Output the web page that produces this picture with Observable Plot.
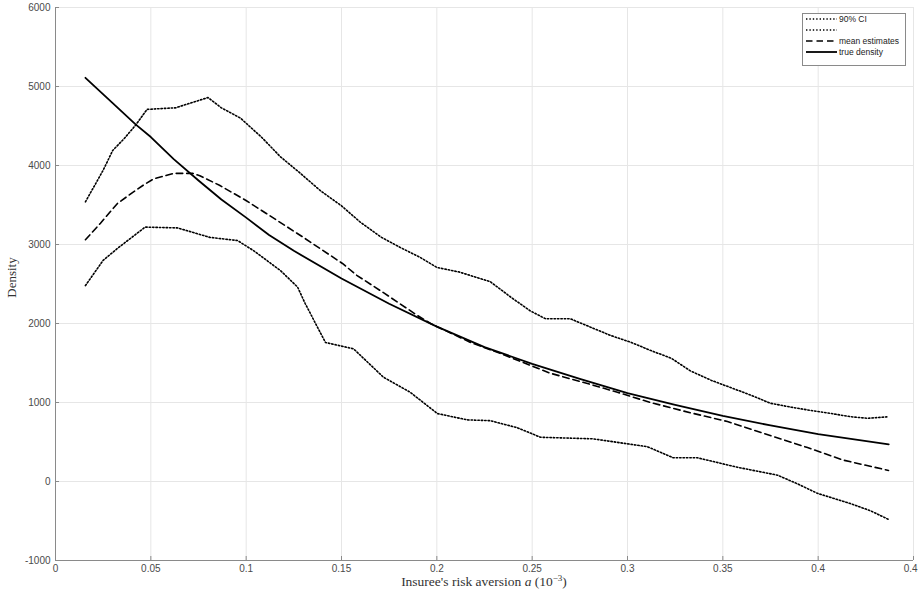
<!DOCTYPE html>
<html>
<head>
<meta charset="utf-8">
<script src="https://cdn.jsdelivr.net/npm/d3@7"></script>
<script src="https://cdn.jsdelivr.net/npm/@observablehq/plot@0.6"></script>
<style>
  html, body { margin: 0; padding: 0; background: #fff; overflow: hidden; }
  #chart svg { display: block; }
</style>
</head>
<body>
<div id="chart"></div>
<script>
// ---- data ----
const xTicks = [0, 0.05, 0.1, 0.15, 0.2, 0.25, 0.3, 0.35, 0.4, 0.45];
const yTicks = [-1000, 0, 1000, 2000, 3000, 4000, 5000, 6000];

const upperX = [0.0157,0.025,0.030,0.036,0.042,0.048,0.055,0.063,0.072,0.080,0.087,0.097,0.108,0.118,0.128,0.139,0.150,0.160,0.171,0.181,0.191,0.200,0.212,0.228,0.239,0.249,0.257,0.270,0.281,0.291,0.302,0.312,0.323,0.333,0.344,0.354,0.365,0.375,0.386,0.396,0.407,0.417,0.426,0.437];
const upperY = [3540,3940,4190,4340,4510,4710,4720,4730,4800,4860,4730,4600,4360,4110,3910,3680,3490,3280,3090,2960,2840,2710,2650,2530,2330,2160,2060,2060,1950,1850,1760,1660,1560,1400,1280,1190,1090,990,940,900,860,820,800,820];

const lowerX = [0.0157,0.025,0.033,0.047,0.064,0.081,0.0955,0.104,0.118,0.127,0.131,0.1416,0.1563,0.172,0.186,0.2003,0.216,0.228,0.2423,0.2544,0.282,0.3105,0.324,0.3367,0.3577,0.3787,0.3892,0.3996,0.417,0.4274,0.4369];
const lowerY = [2480,2800,2960,3220,3210,3090,3050,2920,2670,2460,2250,1760,1680,1320,1130,860,780,770,680,560,540,440,300,300,180,80,-30,-150,-280,-370,-480];

const meanX = [0.0157,0.0236,0.0325,0.040,0.046,0.0514,0.062,0.072,0.0757,0.086,0.0997,0.114,0.130,0.1505,0.158,0.172,0.1899,0.1967,0.2177,0.2334,0.2596,0.279,0.2947,0.312,0.333,0.3524,0.3713,0.3944,0.4133,0.4369];
const meanY = [3060,3270,3520,3650,3750,3830,3900,3900,3870,3750,3560,3340,3090,2760,2610,2390,2100,2000,1760,1620,1370,1240,1130,1000,870,760,610,430,270,140];

const trueX = [0.0157,0.03,0.042,0.05,0.062,0.075,0.087,0.1,0.112,0.125,0.15,0.175,0.2,0.225,0.25,0.275,0.3,0.325,0.35,0.375,0.4,0.437];
const trueY = [5110,4790,4520,4360,4080,3810,3570,3340,3120,2920,2570,2250,1960,1700,1490,1300,1120,970,830,710,600,470];

const legendLabels = ["90% CI", "", "mean estimates", "true density"];

// ---- build tables ----
const toRows = (xs, ys) => xs.map((x, i) => ({x, y: ys[i]}));
const upper = toRows(upperX, upperY);
const lower = toRows(lowerX, lowerY);
const mean = toRows(meanX, meanY);
const truth = toRows(trueX, trueY);

const W = 918, H = 591;
const mL = 55, mR = 5, mT = 7, mB = 31;
const fmtX = d => String(+d.toFixed(2));
const fmtY = d => String(d);

const styles = {
  dotted: {stroke: "#000", strokeWidth: 1.6, strokeDasharray: "1.4,2"},
  dashed: {stroke: "#000", strokeWidth: 1.6, strokeDasharray: "6.5,4"},
  solid: {stroke: "#000", strokeWidth: 1.8}
};

const chart = Plot.plot({
  width: W,
  height: H,
  marginLeft: mL,
  marginRight: mR,
  marginTop: mT,
  marginBottom: mB,
  style: {fontFamily: "'Liberation Sans', Arial, Helvetica, sans-serif", background: "#fff", overflow: "hidden"},
  x: {domain: [0, 0.45]},
  y: {domain: [-1000, 6000]},
  marks: [
    Plot.gridX(xTicks, {stroke: "#e6e6e6", strokeOpacity: 1, strokeWidth: 1}),
    Plot.gridY(yTicks, {stroke: "#e6e6e6", strokeOpacity: 1, strokeWidth: 1}),
    Plot.ruleX([0], {stroke: "#8a8a8a", strokeWidth: 1}),
    Plot.ruleY([-1000], {stroke: "#8a8a8a", strokeWidth: 1}),
    Plot.axisX({ticks: xTicks, tickFormat: fmtX, tickSize: -4, tickPadding: 8, label: null, fontSize: 10, color: "#4a4a4a", stroke: "#8a8a8a"}),
    Plot.axisY({ticks: yTicks, tickFormat: fmtY, tickSize: -4, tickPadding: 9, label: null, fontSize: 10, color: "#4a4a4a", stroke: "#8a8a8a"}),
    Plot.line(upper, {x: "x", y: "y", ...styles.dotted}),
    Plot.line(lower, {x: "x", y: "y", ...styles.dotted}),
    Plot.line(mean, {x: "x", y: "y", ...styles.dashed}),
    Plot.line(truth, {x: "x", y: "y", ...styles.solid})
  ]
});

document.getElementById("chart").appendChild(chart);

// ---- axis labels and legend (real SVG text) ----
const svg = d3.select(chart);
const serif = "'Liberation Serif', 'DejaVu Serif', 'Times New Roman', serif";
const cx = mL + (W - mL - mR) / 2;

const xl = svg.append("text")
  .attr("x", cx).attr("y", 586)
  .attr("text-anchor", "middle")
  .attr("font-family", serif).attr("font-size", 13.5).attr("fill", "#333");
xl.append("tspan").text("Insuree's risk aversion ");
xl.append("tspan").attr("font-style", "italic").text("a");
xl.append("tspan").text(" (10");
xl.append("tspan").attr("font-size", 9).attr("dy", -5).text("\u22123");
xl.append("tspan").attr("dy", 5).text(")");

svg.append("text")
  .attr("transform", `translate(16,${mT + (H - mT - mB) / 2 - 6}) rotate(-90)`)
  .attr("text-anchor", "middle")
  .attr("font-family", serif).attr("font-size", 13).attr("fill", "#333")
  .text("Density");

const lg = svg.append("g");
lg.append("rect")
  .attr("x", 802.5).attr("y", 13.5).attr("width", 103).attr("height", 52)
  .attr("fill", "#fff").attr("stroke", "#8a8a8a").attr("stroke-width", 1);
const legendStyles = [styles.dotted, styles.dotted, styles.dashed, styles.solid];
legendLabels.forEach((lab, i) => {
  const yy = 19 + i * 11;
  const st = legendStyles[i];
  lg.append("line")
    .attr("x1", 806).attr("x2", 837).attr("y1", yy).attr("y2", yy)
    .attr("stroke", st.stroke).attr("stroke-width", st.strokeWidth)
    .attr("stroke-dasharray", st.strokeDasharray || null);
  lg.append("text")
    .attr("x", 839).attr("y", yy).attr("dy", "0.35em")
    .attr("text-anchor", "start")
    .attr("font-family", "'Liberation Sans', Arial, sans-serif")
    .attr("font-size", 8.5).attr("fill", "#222")
    .text(lab);
});
</script>
</body>
</html>
